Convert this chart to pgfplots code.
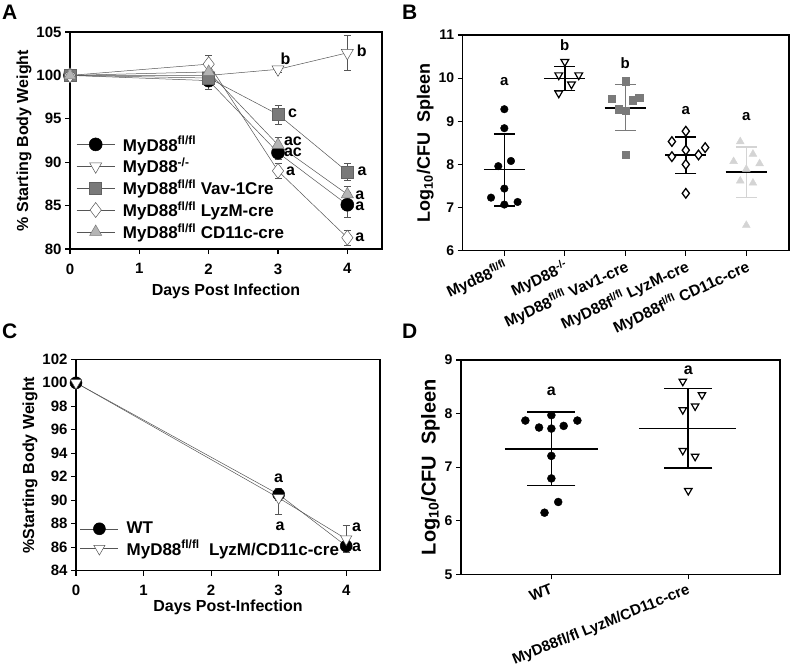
\documentclass[border=0pt]{standalone}
\usepackage{pgfplots}
\pgfplotsset{compat=1.18}
\usepackage{fontspec}
\setmainfont{Liberation Sans}
\definecolor{vav}{HTML}{7A7A7A}
\definecolor{cdA}{HTML}{B4B4B4}
\definecolor{cdB}{HTML}{D4D4D4}
\definecolor{lgr}{HTML}{555555}
\newcommand\fs[1]{\fontsize{#1}{#1}\selectfont\bfseries}
\pgfplotsset{
  panel/.style={scale only axis, anchor=south west, clip=false,
    axis line style={line width=1.5pt}, tick style={line width=1.2pt, black},
    tick align=outside, xtick pos=bottom, ytick pos=left, major tick length=5pt,
    /pgf/number format/assume math mode=true},
  ebA/.style={error bars/.cd, y dir=both, y explicit,
    error bar style={line width=0.5pt, draw=lgr},
    error mark options={rotate=90, mark size=3.5pt, line width=0.5pt, draw=lgr}},
  sd/.style n args={2}{draw=none, mark=none, forget plot, error bars/.cd, y dir=both, y explicit,
    error bar style={line width=1.6pt, draw=#1},
    error mark options={rotate=90, mark size=#2, line width=1.6pt, draw=#1}},
}
\begin{document}
\begin{tikzpicture}
\path (0pt,0pt) rectangle (791pt,-668pt);
% panel letters
\node[anchor=north west, inner sep=0pt, font=\fs{21}] at (2pt,-5pt) {A};
\node[anchor=north west, inner sep=0pt, font=\fs{21}] at (402pt,-5pt) {B};
\node[anchor=north west, inner sep=0pt, font=\fs{21}] at (2pt,-324pt) {C};
\node[anchor=north west, inner sep=0pt, font=\fs{21}] at (402pt,-324pt) {D};

% ---------------- Panel A
\begin{axis}[panel, at={(70pt,-249pt)}, width=312pt, height=217pt,
  xmin=0, xmax=4.5, ymin=80, ymax=105, xtick={0,1,2,3,4}, ytick={80,85,90,95,100,105},
  ticklabel style={font=\fs{15}}, label style={font=\fs{16}},
  xticklabel style={yshift=-6pt},
  xlabel={Days Post Infection}, ylabel={\% Starting Body Weight},
  xlabel style={yshift=-3pt}, ylabel style={yshift=-2pt},
  legend style={at={(0.02,0.53)}, anchor=north west, draw=none, fill=none,
    font=\fs{17}, inner sep=0pt, row sep=1.5pt, cells={anchor=west},
    /tikz/every odd column/.append style={column sep=6pt}},
  legend image code/.code={\draw[mark repeat=2, mark phase=2] plot coordinates {(0pt,0pt) (19pt,0pt) (38pt,0pt)};}]
\addplot[lgr, line width=0.5pt, mark=*, mark size=6.5pt, mark options={fill=black, draw=black}, ebA]
  table[x=x, y=y, y error=e] {
x y e
0 100 0
2 99.4 1.0
3 91.1 0.8
4 85.1 1.4
};
\addlegendentry{MyD88\textsuperscript{fl/fl}}
\addplot[lgr, line width=0.5pt, mark=triangle*, mark size=7pt, mark options={rotate=180, fill=white, draw=lgr}, ebA]
  table[x=x, y=y, y error=e] {
x y e
0 100 0
2 100.0 0.5
3 100.7 0.3
4 102.6 2.0
};
\addlegendentry{MyD88\textsuperscript{-/-}}
\addplot[lgr, line width=0.5pt, mark=square*, mark size=6pt, mark options={fill=vav, draw=vav!80!black}, ebA]
  table[x=x, y=y, y error=e] {
x y e
0 100 0
2 99.7 0.8
3 95.5 1.1
4 88.9 1.0
};
\addlegendentry{MyD88\textsuperscript{fl/fl} Vav-1Cre}
\addplot[lgr, line width=0.5pt, mark=diamond*, mark size=7.5pt, mark options={fill=white, draw=lgr}, ebA]
  table[x=x, y=y, y error=e] {
x y e
0 100 0
2 101.3 1.0
3 89.0 0.9
4 81.3 0.9
};
\addlegendentry{MyD88\textsuperscript{fl/fl} LyzM-cre}
\addplot[lgr, line width=0.5pt, mark=triangle*, mark size=7pt, mark options={fill=cdA, draw=vav}, ebA]
  table[x=x, y=y, y error=e] {
x y e
0 100 0
2 100.4 1.0
3 92.0 0.9
4 86.3 0.9
};
\addlegendentry{MyD88\textsuperscript{fl/fl} CD11c-cre}
\begin{scope}[every node/.style={font=\fs{16}, anchor=west, inner sep=1pt}]
\node at (axis cs:3.02,101.9) {b};
\node at (axis cs:4.12,102.8) {b};
\node at (axis cs:3.13,95.6) {c};
\node at (axis cs:3.07,92.4) {ac};
\node at (axis cs:3.07,91.1) {ac};
\node at (axis cs:3.1,88.9) {a};
\node at (axis cs:4.13,88.9) {a};
\node at (axis cs:4.1,86.2) {a};
\node at (axis cs:4.1,84.9) {a};
\node at (axis cs:4.1,81.3) {a};
\end{scope}
\end{axis}

% ---------------- Panel B
\begin{axis}[panel, at={(462.7pt,-250.7pt)}, width=326.3pt, height=215.7pt,
  xmin=-0.688, xmax=4.706, ymin=6, ymax=11, ytick={6,7,8,9,10,11}, xtick={0,1,2,3,4},
  xticklabels={Myd88\textsuperscript{fl/fl}, MyD88\textsuperscript{-/-}, MyD88\textsuperscript{fl/fl} Vav1-cre, MyD88f\textsuperscript{l/fl} LyzM-cre, MyD88f\textsuperscript{l/fl} CD11c-cre},
  xticklabel style={rotate=25, anchor=north east, font=\fs{15.5}, inner sep=2pt},
  yticklabel style={font=\fs{14}},
  ylabel={Log\textsubscript{10}/CFU\ \ Spleen}, ylabel style={font=\fs{18}, yshift=-2pt}]
% group 1
\addplot[only marks, mark=*, mark size=3.8pt, black] coordinates {(0,9.28) (0,8.84) (0.11,8.08) (-0.1,7.96) (0,7.44) (-0.22,7.23) (0,7.07) (0.22,7.13)};
\addplot[line width=1.6pt, black] coordinates {(-0.34,7.88) (0.34,7.88)};
\addplot[sd={black}{10.5pt}] coordinates {(0,7.87) +- (0,0.83)};
% group 2
\addplot[only marks, mark=triangle*, mark size=4.5pt, mark options={rotate=180, fill=white, draw=black, line width=1.2pt}] coordinates {(1,10.38) (0.9,10.07) (1.23,10.07) (1.11,9.86) (0.9,9.65)};
\addplot[line width=1.6pt, black] coordinates {(0.66,9.99) (1.34,9.99)};
\addplot[sd={black}{10.5pt}] coordinates {(1,9.99) +- (0,0.28)};
% group 3
\addplot[only marks, mark=square*, mark size=3.6pt, vav] coordinates {(2,9.93) (1.78,9.53) (2.12,9.49) (2.23,9.55) (1.89,9.28) (2,9.24) (2,8.22)};
\addplot[sd={vav}{10.5pt}] coordinates {(2,9.32) +- (0,0.53)};
\addplot[line width=1.6pt, black] coordinates {(1.66,9.31) (2.34,9.31)};
% group 4
\addplot[only marks, mark=diamond*, mark size=4.8pt, mark options={fill=white, draw=black, line width=1.3pt}] coordinates {(3,8.77) (2.77,8.53) (3.32,8.39) (3,8.33) (2.77,8.18) (3.21,8.22) (3,8.0) (3,7.33)};
\addplot[line width=1.6pt, black] coordinates {(2.66,8.22) (3.34,8.22)};
\addplot[sd={black}{10.5pt}] coordinates {(3,8.215) +- (0,0.425)};
% group 5
\addplot[only marks, mark=triangle*, mark size=4.5pt, cdB] coordinates {(3.9,8.53) (3.79,8.07) (4.11,8.24) (4.22,8.02) (4,7.89) (3.9,7.62) (4.11,7.57) (4,6.59)};
\addplot[sd={cdB}{10.5pt}] coordinates {(4,7.82) +- (0,0.59)};
\addplot[line width=1.6pt, black] coordinates {(3.66,7.82) (4.34,7.82)};
\begin{scope}[every node/.style={font=\fs{15}, inner sep=0pt}]
\node at (axis cs:0,9.93) {a};
\node at (axis cs:1,10.77) {b};
\node at (axis cs:2,10.34) {b};
\node at (axis cs:3,9.24) {a};
\node at (axis cs:4,9.1) {a};
\end{scope}
\end{axis}

% ---------------- Panel C
\begin{axis}[panel, at={(76pt,-570.7pt)}, width=304pt, height=211.4pt,
  xmin=0, xmax=4.5, ymin=84, ymax=102, xtick={0,1,2,3,4}, ytick={84,86,...,102},
  ticklabel style={font=\fs{15}}, label style={font=\fs{16}},
  xticklabel style={yshift=-6pt},
  xlabel={Days Post-Infection}, ylabel={\%Starting Body Weight},
  xlabel style={yshift=3pt}, ylabel style={yshift=-2pt},
  legend style={at={(0.013,0.24)}, anchor=north west, draw=none, fill=none,
    font=\fs{17}, inner sep=0pt, row sep=1pt, cells={anchor=west},
    /tikz/every odd column/.append style={column sep=6pt}},
  legend image code/.code={\draw[mark repeat=2, mark phase=2] plot coordinates {(0pt,0pt) (19pt,0pt) (38pt,0pt)};}]
\addplot[lgr, line width=0.5pt, mark=*, mark size=6pt, mark options={fill=black, draw=black}, ebA]
  table[x=x, y=y, y error=e] {
x y e
0 100 0
3 90.5 0.5
4 86.1 0.5
};
\addlegendentry{WT}
\addplot[lgr, line width=0.5pt, mark=triangle*, mark size=6.5pt, mark options={rotate=180, fill=white, draw=lgr}, error bars/.cd, y dir=both, y explicit,
    error bar style={line width=0.5pt, draw=lgr},
    error mark options={rotate=90, mark size=3.5pt, line width=0.5pt, draw=lgr}]
  coordinates {(0,100) (3,90.2) += (0,0.8) -= (0,1.35) (4,86.7) += (0,1.2) -= (0,1.0)};
\addlegendentry{MyD88\textsuperscript{fl/fl}\ \ LyzM/CD11c-cre}
\begin{scope}[every node/.style={font=\fs{16}, inner sep=1pt}]
\node at (axis cs:3,91.9) {a};
\node at (axis cs:3.02,87.8) {a};
\node[anchor=west] at (axis cs:4.07,87.7) {a};
\node[anchor=west] at (axis cs:4.07,86.0) {a};
\end{scope}
\end{axis}

% ---------------- Panel D
\begin{axis}[panel, at={(461pt,-574.3pt)}, width=319pt, height=214.3pt,
  xmin=-0.66, xmax=1.67, ymin=5, ymax=9, ytick={5,6,7,8,9}, xtick={0,1},
  xticklabels={WT, MyD88fl/fl LyzM/CD11c-cre},
  xticklabel style={rotate=22, anchor=north east, font=\fs{15}, inner sep=3pt},
  yticklabel style={font=\fs{14}},
  ylabel={Log\textsubscript{10}/CFU\ \ Spleen}, ylabel style={font=\fs{20}, yshift=-2pt}]
\addplot[only marks, mark=*, mark size=4pt, black] coordinates {(0,7.97) (-0.19,7.87) (0.19,7.87) (-0.09,7.74) (0,7.72) (0.09,7.77) (0,7.21) (0,6.79) (0.05,6.35) (-0.05,6.15)};
\addplot[line width=1.5pt, black] coordinates {(-0.34,7.34) (0.34,7.34)};
\addplot[sd={black}{24pt}] coordinates {(0,7.345) +- (0,0.685)};
\addplot[only marks, mark=triangle*, mark size=4.3pt, mark options={rotate=180, fill=white, draw=black, line width=1.2pt}] coordinates {(0.96,8.6) (1.1,8.35) (1.05,8.14) (0.96,8.07) (0.96,7.31) (1.05,7.2) (1,6.56)};
\addplot[line width=1.5pt, black] coordinates {(0.64,7.72) (1.35,7.72)};
\addplot[sd={black}{24pt}] coordinates {(1,7.73) +- (0,0.74)};
\begin{scope}[every node/.style={font=\fs{16}, inner sep=0pt}]
\node at (axis cs:0,8.41) {a};
\node at (axis cs:1,8.81) {a};
\end{scope}
\end{axis}
\end{tikzpicture}
\end{document}
